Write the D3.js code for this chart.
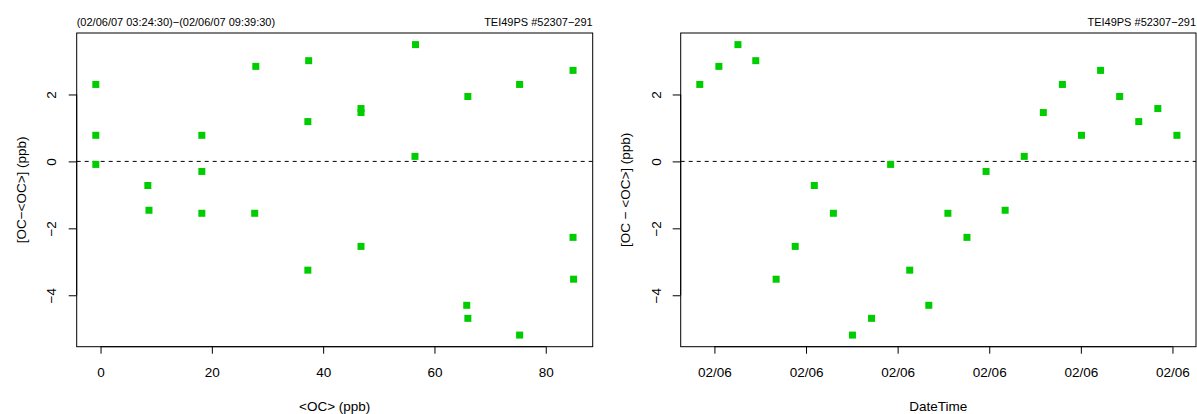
<!DOCTYPE html>
<html>
<head>
<meta charset="utf-8">
<script src="https://cdn.jsdelivr.net/npm/d3@7"></script>
<style>
  body { margin: 0; background: #fff; }
  svg { font-family: "Liberation Sans", Arial, sans-serif; }
</style>
</head>
<body>
<div id="chart"></div>
<script>
// Left panel: mean OC vs deviation
var ocMean = [-0.85, -0.85, -0.85, 8.5, 8.7, 18.2, 18.2, 18.2, 27.9, 27.7, 37.4, 37.25, 37.25,
  46.8, 46.8, 46.8, 56.6, 56.5, 66.0, 65.8, 66.0, 75.3, 75.3, 84.9, 84.9, 85.0];
var ocDev = [2.30, 0.78, -0.09, -0.72, -1.46, 0.78, -0.30, -1.55, 2.84, -1.55, 3.01, 1.19, -3.25,
  1.58, 1.46, -2.54, 3.49, 0.15, 1.94, -4.30, -4.69, 2.30, -5.19, 2.72, -2.27, -3.52];

// Right panel: deviation over time (02/06/07)
var times = ["03:24:30", "03:39:30", "03:54:30", "04:08:30", "04:24:30", "04:39:30", "04:54:30",
  "05:09:30", "05:24:30", "05:39:30", "05:54:30", "06:09:30", "06:24:30", "06:39:30", "06:54:30",
  "07:09:30", "07:24:30", "07:39:30", "07:54:30", "08:09:30", "08:24:30", "08:39:30", "08:54:30",
  "09:09:30", "09:24:30", "09:39:30"];
var devSeries = [2.30, 2.84, 3.49, 3.01, -3.52, -2.54, -0.72, -1.55, -5.19, -4.69, -0.09, -3.25,
  -4.30, -1.55, -2.27, -0.30, -1.46, 0.15, 1.46, 2.30, 0.78, 2.72, 1.94, 1.19, 1.58, 0.78];

var yTicks = [-4, -2, 0, 2];
var xTicksLeft = [0, 20, 40, 60, 80];
var timeTicks = ["03:36:00", "04:48:00", "06:00:00", "07:12:00", "08:24:00", "09:36:00"];

var headerLeft = "(02/06/07 03:24:30)\u2212(02/06/07 09:39:30)";
var headerRight = "TEI49PS #52307\u2212291";

var parseTime = function (s) {
  var p = s.split(":");
  return new Date(Date.UTC(2007, 1, 6, +p[0], +p[1], +p[2]));
};
var fmtNum = function (d) { return String(d).replace("-", "\u2212"); };

var width = 1197, height = 414;
var plotTop = 33, plotBottom = 346.7;
var green = "#00cd00";

var svg = d3.select("#chart").append("svg")
  .attr("width", width)
  .attr("height", height);

// R-style 4% padding of the data range
function padExtent(ext) {
  var lo = +ext[0], hi = +ext[1];
  var p = (hi - lo) * 0.04;
  return [lo - p, hi + p];
}

var yScale = d3.scaleLinear()
  .domain(padExtent(d3.extent(ocDev.concat(devSeries))))
  .range([plotBottom, plotTop]);

function drawPanel(opts) {
  var g = svg.append("g");
  var x0 = opts.left, x1 = opts.right;

  // dashed zero line
  g.append("line")
    .attr("x1", x0).attr("x2", x1)
    .attr("y1", yScale(0)).attr("y2", yScale(0))
    .attr("stroke", "#000")
    .attr("stroke-dasharray", "4,4");

  // points
  g.selectAll("rect.pt")
    .data(opts.points)
    .enter()
    .append("rect")
    .attr("class", "pt")
    .attr("x", function (d) { return opts.xScale(d[0]) - 3.5; })
    .attr("y", function (d) { return yScale(d[1]) - 3.5; })
    .attr("width", 7)
    .attr("height", 7)
    .attr("fill", green);

  // box
  g.append("rect")
    .attr("x", x0).attr("y", plotTop)
    .attr("width", x1 - x0).attr("height", plotBottom - plotTop)
    .attr("fill", "none")
    .attr("stroke", "#000")
    .attr("stroke-width", 1);

  // x axis
  var xAxis = g.append("g")
    .attr("transform", "translate(0," + plotBottom + ")")
    .call(d3.axisBottom(opts.xScale)
      .tickValues(opts.xTicks)
      .tickFormat(opts.xFormat)
      .tickSizeOuter(0)
      .tickSize(7)
      .tickPadding(14));
  xAxis.select(".domain").remove();
  xAxis.selectAll("text").attr("font-size", "13.5px").attr("fill", "#000").attr("font-family", null);
  xAxis.append("line")
    .attr("x1", opts.xScale(opts.xTicks[0]))
    .attr("x2", opts.xScale(opts.xTicks[opts.xTicks.length - 1]))
    .attr("stroke", "#000");

  // y axis
  var yAxis = g.append("g")
    .attr("transform", "translate(" + x0 + ",0)")
    .call(d3.axisLeft(yScale)
      .tickValues(yTicks)
      .tickFormat(fmtNum)
      .tickSizeOuter(0)
      .tickSize(8));
  yAxis.select(".domain").remove();
  yAxis.selectAll("text")
    .attr("x", null).attr("dy", null)
    .attr("transform", "translate(-20.2,0) rotate(-90)")
    .attr("text-anchor", "middle")
    .attr("font-size", "13.5px")
    .attr("fill", "#000")
    .attr("font-family", null);
  yAxis.append("line")
    .attr("y1", yScale(yTicks[0]))
    .attr("y2", yScale(yTicks[yTicks.length - 1]))
    .attr("stroke", "#000");

  // axis titles
  g.append("text")
    .attr("x", (x0 + x1) / 2)
    .attr("y", 411)
    .attr("text-anchor", "middle")
    .attr("font-size", "13.5px")
    .text(opts.xTitle);

  g.append("text")
    .attr("transform", "translate(" + (x0 - 51) + "," + (plotTop + plotBottom) / 2 + ") rotate(-90)")
    .attr("text-anchor", "middle")
    .attr("font-size", "13.5px")
    .text(opts.yTitle);

  // header
  if (opts.headerLeft) {
    g.append("text")
      .attr("x", x0)
      .attr("y", 25.5)
      .attr("font-size", "11px")
      .text(opts.headerLeft);
  }
  g.append("text")
    .attr("x", x1)
    .attr("y", 25.5)
    .attr("text-anchor", "end")
    .attr("font-size", "11px")
    .text(headerRight);
}

// Left panel
var xLeft = d3.scaleLinear()
  .domain(padExtent(d3.extent(ocMean)))
  .range([76.7, 592.7]);

drawPanel({
  left: 76.7, right: 592.7,
  xScale: xLeft,
  xTicks: xTicksLeft,
  xFormat: fmtNum,
  points: ocMean.map(function (d, i) { return [d, ocDev[i]]; }),
  xTitle: "<OC> (ppb)",
  yTitle: "[OC\u2212<OC>] (ppb)",
  headerLeft: headerLeft
});

// Right panel
var dates = times.map(parseTime);
var xRight = d3.scaleUtc()
  .domain(padExtent(d3.extent(dates)))
  .range([680.7, 1196]);

drawPanel({
  left: 680.7, right: 1196,
  xScale: xRight,
  xTicks: timeTicks.map(parseTime),
  xFormat: d3.utcFormat("%m/%d"),
  points: dates.map(function (d, i) { return [d, devSeries[i]]; }),
  xTitle: "DateTime",
  yTitle: "[OC \u2212 <OC>] (ppb)",
  headerLeft: null
});
</script>
</body>
</html>
